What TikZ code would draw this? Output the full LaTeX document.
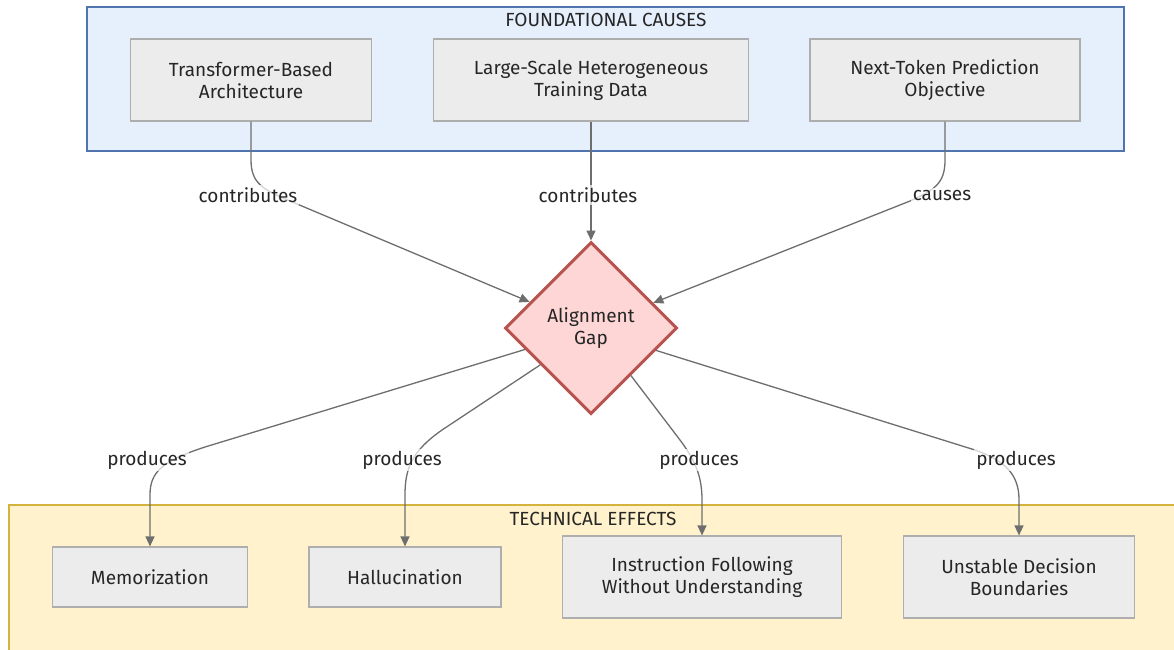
\documentclass[tikz,border=0pt]{standalone}
\usepackage{fontspec}
\setmainfont{Fira Sans}
\usetikzlibrary{shapes.geometric,arrows.meta}
\definecolor{inkgrey}{HTML}{262626}
\definecolor{edgegrey}{HTML}{6E6E6E}
\definecolor{boxfill}{HTML}{ECECEC}
\definecolor{boxline}{HTML}{AEAEAE}
\definecolor{causefill}{HTML}{E6EFFC}
\definecolor{causeline}{HTML}{5075AE}
\definecolor{effectfill}{HTML}{FFF2CC}
\definecolor{effectline}{HTML}{D4B23E}
\definecolor{gapfill}{HTML}{FFD6D6}
\definecolor{gapline}{HTML}{B85450}
\tikzset{
  every node/.style={text=inkgrey},
  stepbox/.style={draw=boxline, fill=boxfill, line width=1.2pt, align=center,
    inner sep=0pt, font=\fontsize{19}{22}\selectfont},
  gapnode/.style={diamond, draw=gapline, fill=gapfill, line width=3pt,
    minimum width=172pt, minimum height=172pt, inner sep=0pt, align=center,
    font=\fontsize{19}{22}\selectfont},
  edge/.style={draw=edgegrey, line width=1.3pt, -{Triangle[length=10pt,width=9pt]}},
  edgelabel/.style={fill=white, fill opacity=0.7, text opacity=1, inner sep=2pt,
    font=\fontsize{19}{22}\selectfont},
  grouptitle/.style={font=\fontsize{19}{22}\selectfont},
}
\begin{document}
\begin{tikzpicture}[x=1pt, y=-1pt]
\useasboundingbox (0,0) rectangle (1174,649);
\begin{scope}
  \clip (0,0) rectangle (1174,649);
  \fill[white] (0,0) rectangle (1174,649);
  % group frames
  \draw[fill=causefill, draw=causeline, line width=2pt] (87,7) rectangle (1124,151);
  \draw[fill=effectfill, draw=effectline, line width=2pt] (9,505) rectangle (1190,670);
\end{scope}
\node[grouptitle] (causetitle) at (606,20) {FOUNDATIONAL CAUSES};
\node[grouptitle] (effecttitle) at (593,519) {TECHNICAL EFFECTS};

% causes
\node[stepbox, minimum width=241pt, minimum height=82pt] (tb) at (251,80) {Transformer-Based\\Architecture};
\node[stepbox, minimum width=315pt, minimum height=82pt] (ls) at (591,80) {Large-Scale Heterogeneous\\Training Data};
\node[stepbox, minimum width=270pt, minimum height=82pt] (nt) at (945,80) {Next-Token Prediction\\Objective};

% central gap
\node[gapnode] (gap) at (591,328) {Alignment\\Gap};

% effects
\node[stepbox, minimum width=195pt, minimum height=60pt] (mem) at (150,577) {Memorization};
\node[stepbox, minimum width=192pt, minimum height=60pt] (hal) at (405,577) {Hallucination};
\node[stepbox, minimum width=279pt, minimum height=82pt] (ins) at (702,577) {Instruction Following\\Without Understanding};
\node[stepbox, minimum width=231pt, minimum height=82pt] (uns) at (1019,577) {Unstable Decision\\Boundaries};

% incoming connectors
\draw[edge] (tb.south) -- (251,160) .. controls (251,184) and (264,190) .. (290,201) -- (gap.157);
\draw[edge] (ls.south) -- (gap.north);
\draw[edge] (nt.south) -- (945,160) .. controls (945,184) and (934,190) .. (910,201) -- (gap.22);

% outgoing connectors
\draw[edge] (gap.198) -- (205,447) .. controls (162,461) and (150,472) .. (150,495) -- (mem.north);
\draw[edge] (gap.216) -- (442,430) .. controls (412,451) and (405,468) .. (405,495) -- (hal.north);
\draw[edge] (gap.310) -- (680,440) .. controls (695,460) and (702,476) .. (702,500) -- (ins.north);
\draw[edge] (gap.341) -- (975,450) .. controls (1006,461) and (1019,475) .. (1019,500) -- (uns.north);

% connector labels
\node[edgelabel] (l1) at (248,195) {contributes};
\node[edgelabel] (l2) at (588,195) {contributes};
\node[edgelabel] (l3) at (942,195) {causes};
\node[edgelabel] (l4) at (147,460) {produces};
\node[edgelabel] (l5) at (402,460) {produces};
\node[edgelabel] (l6) at (699,460) {produces};
\node[edgelabel] (l7) at (1016,460) {produces};
\end{tikzpicture}
\end{document}
